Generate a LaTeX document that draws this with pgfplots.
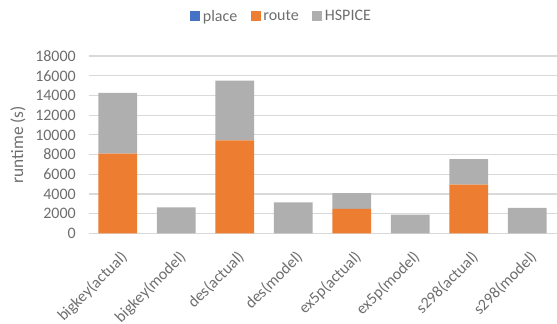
\documentclass[border=0pt]{standalone}
\usepackage{fontspec}
\setmainfont{Carlito}
\usepackage{pgfplots}
\pgfplotsset{compat=1.18}
\definecolor{placec}{HTML}{4472C4}
\definecolor{routec}{HTML}{ED7D31}
\definecolor{hspc}{HTML}{AFAFAF}
\definecolor{txt}{HTML}{6E6E6E}
\definecolor{gridc}{HTML}{D9D9D9}
\begin{document}
\begin{tikzpicture}
\begin{axis}[
  at={(0,0)}, anchor=south west,
  scale only axis, width=351pt, height=133.1pt,
  ybar stacked, bar width=29pt,
  xmin=-0.5, xmax=7.5, ymin=0, ymax=18000,
  ytick={0,2000,...,18000},
  xtick={0,...,7},
  xticklabels={bigkey(actual),bigkey(model),des(actual),des(model),ex5p(actual),ex5p(model),s298(actual),s298(model)},
  x tick label style={rotate=45, anchor=north east, font=\fontsize{12}{14}\selectfont, text=txt, yshift=-6pt, xshift=-4pt},
  y tick label style={font=\fontsize{12}{14}\selectfont, text=txt, /pgf/number format/1000 sep={}},
  /pgf/number format/assume math mode=true,
  scaled y ticks=false,
  ymajorgrids, grid style={draw=gridc, line width=0.8pt},
  axis x line*=bottom, axis y line*=left,
  x axis line style={draw=gridc, line width=0.8pt},
  y axis line style={draw=none},
  major tick length=0pt, tick style={draw=none},
  yticklabel style={xshift=-6pt},
  ylabel={runtime (s)},
  ylabel style={at={(axis description cs:-0.151,0.5)}, anchor=center, font=\fontsize{13}{15}\selectfont, text=txt},
  legend style={at={(axis description cs:0.413,1.222)}, anchor=center, draw=none, fill=none,
     legend columns=-1, font=\fontsize{12}{14}\selectfont, text=txt,
     /tikz/every even column/.append style={column sep=8pt}},
  legend image code/.code={\fill[#1] (0pt,-3.6pt) rectangle (7.6pt,4pt);},
]
\addplot[fill=placec, draw=none] coordinates {(0,0) (1,0) (2,0) (3,0) (4,0) (5,0) (6,0) (7,0)};
\addplot[fill=routec, draw=none] coordinates {(0,8100) (1,0) (2,9450) (3,0) (4,2500) (5,0) (6,4950) (7,0)};
\addplot[fill=hspc, draw=none] coordinates {(0,6150) (1,2650) (2,6050) (3,3150) (4,1600) (5,1900) (6,2600) (7,2600)};
\legend{place,route,HSPICE}
\end{axis}
\pgfresetboundingbox
\useasboundingbox (-66.4pt,-67.9pt) rectangle (351.35pt,175.1pt);
\end{tikzpicture}
\end{document}
